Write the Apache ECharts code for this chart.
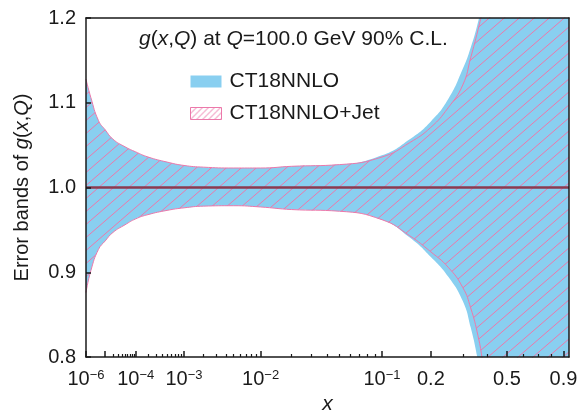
<!DOCTYPE html>
<html lang="en">
<head>
  <meta charset="UTF-8">
  <title>g(x,Q) error bands</title>
  <script src="https://cdn.jsdelivr.net/npm/echarts@6/dist/echarts.min.js"></script>
  <style>
    * { margin: 0; padding: 0; box-sizing: border-box; }
    body { background: #fff; }
    #chart { width: 579px; height: 411px; }
  </style>
</head>
<body>
  <div id="chart"></div>
  <script>
    // band edges (ratio to central value)
    const xs       = [1e-6, 2e-6, 5e-6, 1e-5, 2e-5, 5e-5, 1e-4, 2e-4, 5e-4, 1e-3, 2e-3, 5e-3, 1e-2, 2e-2, 5e-2, 0.1, 0.15, 0.2, 0.25, 0.3, 0.33, 0.36, 0.38, 0.4, 0.5, 0.7, 0.95];
    const nnloUp   = [1.128, 1.106, 1.079, 1.068, 1.057, 1.048, 1.042, 1.036, 1.030, 1.026, 1.024, 1.023, 1.023, 1.025, 1.027, 1.038, 1.057, 1.078, 1.104, 1.140, 1.165, 1.195, 1.222, 1.26, 1.45, 1.8, 2.2];
    const nnloLo   = [0.876, 0.902, 0.927, 0.937, 0.947, 0.956, 0.963, 0.968, 0.973, 0.976, 0.978, 0.9785, 0.977, 0.974, 0.972, 0.962, 0.941, 0.918, 0.895, 0.866, 0.835, 0.796, 0.765, 0.72, 0.5, 0.2, -0.1];
    const jetUp    = [1.128, 1.106, 1.079, 1.068, 1.057, 1.048, 1.042, 1.036, 1.030, 1.026, 1.024, 1.023, 1.023, 1.025, 1.027, 1.036, 1.053, 1.071, 1.094, 1.121, 1.153, 1.186, 1.21, 1.24, 1.4, 1.7, 2.1];
    const jetLo    = [0.876, 0.902, 0.927, 0.937, 0.947, 0.956, 0.963, 0.968, 0.973, 0.976, 0.978, 0.9785, 0.977, 0.974, 0.972, 0.962, 0.943, 0.924, 0.906, 0.882, 0.858, 0.825, 0.795, 0.76, 0.55, 0.25, 0.0];
    const centralValue = 1.0;

    // x axis: ticks and labels
    const xMin = 1e-6, xMax = 0.95;
    const labelXs = [1e-6, 1e-4, 1e-3, 1e-2, 0.1, 0.2, 0.5, 0.9];
    const labelTexts = ['10{sup|−6}', '10{sup|−4}', '10{sup|−3}', '10{sup|−2}', '10{sup|−1}', '0.2', '0.5', '0.9'];
    const majorTickXs = [1e-6, 1e-5, 1e-4, 1e-3, 1e-2, 0.1, 0.2, 0.5, 0.9];
    const minorTickXs = [2e-5, 3e-5, 4e-5, 5e-5, 6e-5, 7e-5, 8e-5, 9e-5,
                         2e-4, 3e-4, 4e-4, 5e-4, 6e-4, 7e-4, 8e-4, 9e-4,
                         2e-3, 3e-3, 4e-3, 5e-3, 6e-3, 7e-3, 8e-3, 9e-3,
                         2e-2, 3e-2, 4e-2, 5e-2, 6e-2, 7e-2, 8e-2, 9e-2,
                         0.3, 0.4, 0.6, 0.7, 0.8];

    const BLUE = '#89cff0';
    const PINK = '#ec78aa';
    const INK = '#1a1a1a';
    const FONT = 'Liberation Sans';

    // the plot uses x^0.2 along the horizontal axis
    const tx = x => Math.pow(x, 0.2);

    function makeHatch(w, h, color, lw) {
      const c = document.createElement('canvas');
      c.width = w; c.height = h;
      const g = c.getContext('2d');
      g.strokeStyle = color;
      g.lineWidth = lw;
      g.beginPath();
      [-w, 0, w].forEach(dx => {
        g.moveTo(dx - 0.3 * w, h + 0.3 * h);
        g.lineTo(dx + 1.3 * w, -0.3 * h);
      });
      g.stroke();
      return { image: c, repeat: 'repeat' };
    }
    const bandHatch = makeHatch(15, 13, PINK, 1);
    const legendHatch = makeHatch(6, 6, PINK, 1);

    const labelPos = labelXs.map(tx);
    function labelFor(v) {
      let best = 0;
      labelPos.forEach((p, i) => { if (Math.abs(p - v) < Math.abs(labelPos[best] - v)) best = i; });
      return labelTexts[best];
    }

    // value first, x second: so the stack runs on the value dimension
    const pts = vals => xs.map((x, i) => [vals[i], tx(x)]);
    const diff = (a, b) => a.map((v, i) => v - b[i]);

    const lineCommon = {
      type: 'line', showSymbol: false, symbol: 'none', smooth: 0.5, clip: true,
      encode: { x: 1, y: 0 }
    };
    const axisLineStyle = { color: INK, width: 1.5 };

    const myChart = echarts.init(document.getElementById('chart'), null, { renderer: 'canvas' });
    const option = {
      animation: false,
      textStyle: { fontFamily: FONT, color: INK },
      grid: { left: 86, right: 10, top: 18, bottom: 54, containLabel: false, outerBoundsMode: 'none' },
      title: {
        text: '{i|g}({i|x},{i|Q}) at {i|Q}=100.0 GeV 90% C.L.',
        left: 134, top: 24,
        textStyle: {
          fontFamily: FONT, fontSize: 21, fontWeight: 'normal', color: INK,
          rich: { i: { fontFamily: FONT, fontSize: 21, fontStyle: 'italic', color: INK } }
        }
      },
      legend: {
        orient: 'vertical', left: 190, top: 71, padding: 0,
        itemWidth: 31, itemHeight: 12, itemGap: 11,
        textStyle: { fontFamily: FONT, fontSize: 21, color: INK, lineHeight: 18, padding: [0, 0, 0, 3] },
        data: [
          { name: 'CT18NNLO', icon: 'rect', itemStyle: { color: BLUE, borderWidth: 0 } },
          { name: 'CT18NNLO+Jet', icon: 'rect', itemStyle: { color: legendHatch, borderColor: PINK, borderWidth: 1 } }
        ]
      },
      xAxis: [{
        type: 'value', position: 'bottom', min: tx(xMin), max: tx(xMax), z: 10,
        axisLine: { show: true, onZero: false, lineStyle: axisLineStyle },
        axisTick: { show: true, inside: true, length: 6, customValues: majorTickXs.map(tx), lineStyle: axisLineStyle },
        axisLabel: {
          customValues: labelPos, formatter: labelFor, margin: 12,
          fontFamily: FONT, fontSize: 20, color: INK,
          rich: { sup: { fontFamily: FONT, fontSize: 13, color: INK, verticalAlign: 'top' } }
        },
        splitLine: { show: false },
        name: 'x', nameLocation: 'middle', nameGap: 30,
        nameTextStyle: { fontFamily: FONT, fontSize: 21, fontStyle: 'italic', color: INK }
      }, {
        type: 'value', position: 'bottom', min: tx(xMin), max: tx(xMax), z: 10,
        axisLine: { show: false, onZero: false },
        axisTick: { show: true, inside: true, length: 3, customValues: minorTickXs.map(tx), lineStyle: { color: INK, width: 1.2 } },
        axisLabel: { show: false },
        splitLine: { show: false }
      }, {
        type: 'value', position: 'top', min: tx(xMin), max: tx(xMax), z: 10,
        axisLine: { show: true, onZero: false, lineStyle: axisLineStyle },
        axisTick: { show: false }, axisLabel: { show: false }, splitLine: { show: false }
      }],
      yAxis: [{
        type: 'value', position: 'left', min: 0.8, max: 1.2, interval: 0.1, z: 10,
        axisLine: { show: true, onZero: false, lineStyle: axisLineStyle },
        axisTick: { show: true, inside: true, length: 5, lineStyle: axisLineStyle },
        axisLabel: { formatter: v => v.toFixed(1), margin: 10, fontFamily: FONT, fontSize: 20, color: INK },
        splitLine: { show: false },
        name: 'Error bands of {i|g}({i|x},{i|Q})', nameLocation: 'middle', nameGap: 54, nameRotate: 90,
        nameTextStyle: {
          fontFamily: FONT, fontSize: 20, color: INK,
          rich: { i: { fontFamily: FONT, fontSize: 20, fontStyle: 'italic', color: INK } }
        }
      }, {
        type: 'value', position: 'right', min: 0.8, max: 1.2, z: 10,
        axisLine: { show: true, onZero: false, lineStyle: axisLineStyle },
        axisTick: { show: false }, axisLabel: { show: false }, splitLine: { show: false }
      }],
      series: [
        Object.assign({}, lineCommon, {
          name: 'CT18NNLO lower', stack: 'nnlo', z: 2,
          data: pts(nnloLo),
          lineStyle: { width: 0, opacity: 0 }
        }),
        Object.assign({}, lineCommon, {
          name: 'CT18NNLO', stack: 'nnlo', z: 2,
          data: pts(diff(nnloUp, nnloLo)),
          lineStyle: { width: 0, opacity: 0 },
          itemStyle: { color: BLUE },
          areaStyle: { color: BLUE, opacity: 1 }
        }),
        Object.assign({}, lineCommon, {
          name: 'CT18NNLO+Jet lower', stack: 'jet', z: 3,
          data: pts(jetLo),
          lineStyle: { color: PINK, width: 1 }
        }),
        Object.assign({}, lineCommon, {
          name: 'CT18NNLO+Jet', stack: 'jet', z: 3,
          data: pts(diff(jetUp, jetLo)),
          lineStyle: { color: PINK, width: 1 },
          itemStyle: { color: PINK },
          areaStyle: { color: bandHatch, opacity: 1 },
          markLine: {
            silent: true, symbol: 'none', label: { show: false },
            lineStyle: { color: '#8b3a50', width: 2.5, type: 'solid' },
            data: [{ yAxis: centralValue }]
          }
        })
      ]
    };
    myChart.setOption(option);
  </script>
</body>
</html>
